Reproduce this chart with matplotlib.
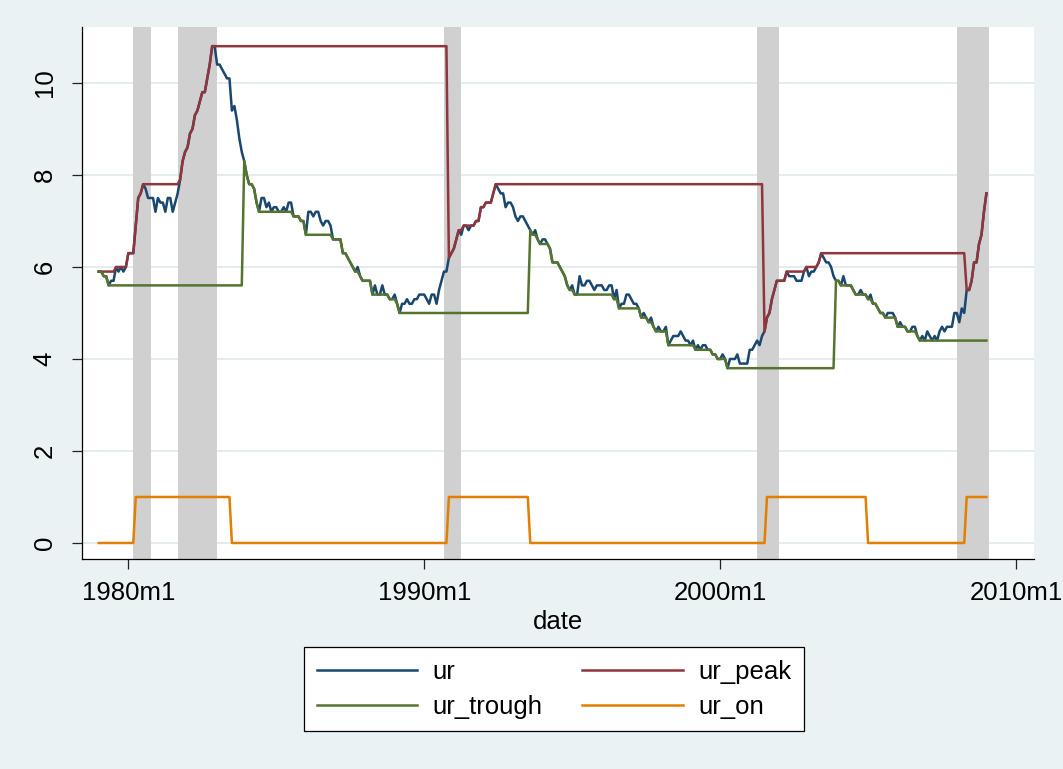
import numpy as np
import pandas as pd
import matplotlib
matplotlib.use("Agg")
import matplotlib.pyplot as plt

plt.rcParams['font.family'] = ['Liberation Sans', 'DejaVu Sans']

# ---------------- data (monthly, 1979m1 .. 2009m1) ----------------
start_month = "1979-01"
end_month = "2009-01"

ur = [
    5.9, 5.9, 5.8, 5.8, 5.6, 5.7, 5.7, 6.0, 5.9, 6.0, 5.9, 6.0,         # 1979
    6.3, 6.3, 6.3, 6.9, 7.5, 7.6, 7.8, 7.7, 7.5, 7.5, 7.5, 7.2,         # 1980
    7.5, 7.4, 7.4, 7.2, 7.5, 7.5, 7.2, 7.4, 7.6, 7.9, 8.3, 8.5,         # 1981
    8.6, 8.9, 9.0, 9.3, 9.4, 9.6, 9.8, 9.8, 10.1, 10.4, 10.8, 10.8,     # 1982
    10.4, 10.4, 10.3, 10.2, 10.1, 10.1, 9.4, 9.5, 9.2, 8.8, 8.5, 8.3,   # 1983
    8.0, 7.8, 7.8, 7.7, 7.4, 7.2, 7.5, 7.5, 7.3, 7.4, 7.2, 7.3,         # 1984
    7.3, 7.2, 7.2, 7.3, 7.2, 7.4, 7.4, 7.1, 7.1, 7.1, 7.0, 7.0,         # 1985
    6.7, 7.2, 7.2, 7.1, 7.2, 7.2, 7.0, 6.9, 7.0, 7.0, 6.9, 6.6,         # 1986
    6.6, 6.6, 6.6, 6.3, 6.3, 6.2, 6.1, 6.0, 5.9, 6.0, 5.8, 5.7,         # 1987
    5.7, 5.7, 5.7, 5.4, 5.6, 5.4, 5.4, 5.6, 5.4, 5.4, 5.3, 5.3,         # 1988
    5.4, 5.2, 5.0, 5.2, 5.2, 5.3, 5.2, 5.2, 5.3, 5.3, 5.4, 5.4,         # 1989
    5.4, 5.3, 5.2, 5.4, 5.4, 5.2, 5.5, 5.7, 5.9, 5.9, 6.2, 6.3,         # 1990
    6.4, 6.6, 6.8, 6.7, 6.9, 6.9, 6.8, 6.9, 6.9, 7.0, 7.0, 7.3,         # 1991
    7.3, 7.4, 7.4, 7.4, 7.6, 7.8, 7.7, 7.6, 7.6, 7.3, 7.4, 7.4,         # 1992
    7.3, 7.1, 7.0, 7.1, 7.1, 7.0, 6.9, 6.8, 6.7, 6.8, 6.6, 6.5,         # 1993
    6.6, 6.6, 6.5, 6.4, 6.1, 6.1, 6.1, 6.0, 5.9, 5.8, 5.6, 5.5,         # 1994
    5.6, 5.4, 5.4, 5.8, 5.6, 5.6, 5.7, 5.7, 5.6, 5.5, 5.6, 5.6,         # 1995
    5.6, 5.5, 5.5, 5.6, 5.6, 5.3, 5.5, 5.1, 5.2, 5.2, 5.4, 5.4,         # 1996
    5.3, 5.2, 5.2, 5.1, 4.9, 5.0, 4.9, 4.8, 4.9, 4.7, 4.6, 4.7,         # 1997
    4.6, 4.6, 4.7, 4.3, 4.4, 4.5, 4.5, 4.5, 4.6, 4.5, 4.4, 4.4,         # 1998
    4.3, 4.4, 4.2, 4.3, 4.2, 4.3, 4.3, 4.2, 4.2, 4.1, 4.1, 4.0,         # 1999
    4.0, 4.1, 4.0, 3.8, 4.0, 4.0, 4.0, 4.1, 3.9, 3.9, 3.9, 3.9,         # 2000
    4.2, 4.2, 4.3, 4.4, 4.3, 4.5, 4.6, 4.9, 5.0, 5.3, 5.5, 5.7,         # 2001
    5.7, 5.7, 5.7, 5.9, 5.8, 5.8, 5.8, 5.7, 5.7, 5.7, 5.9, 6.0,         # 2002
    5.8, 5.9, 5.9, 6.0, 6.1, 6.3, 6.2, 6.1, 6.1, 6.0, 5.8, 5.7,         # 2003
    5.7, 5.6, 5.8, 5.6, 5.6, 5.6, 5.5, 5.4, 5.4, 5.5, 5.4, 5.4,         # 2004
    5.3, 5.4, 5.2, 5.2, 5.1, 5.0, 5.0, 4.9, 5.0, 5.0, 5.0, 4.9,         # 2005
    4.7, 4.8, 4.7, 4.7, 4.6, 4.6, 4.7, 4.7, 4.5, 4.4, 4.5, 4.4,         # 2006
    4.6, 4.5, 4.4, 4.5, 4.4, 4.6, 4.7, 4.6, 4.7, 4.7, 4.7, 5.0,         # 2007
    5.0, 4.8, 5.1, 5.0, 5.5, 5.5, 5.7, 6.1, 6.1, 6.5, 6.7, 7.2,         # 2008
    7.6,                                                                # 2009
]

ur_peak = [
    5.9, 5.9, 5.9, 5.9, 5.9, 5.9, 5.9, 6.0, 6.0, 6.0, 6.0, 6.0,         # 1979
    6.3, 6.3, 6.3, 6.9, 7.5, 7.6, 7.8, 7.8, 7.8, 7.8, 7.8, 7.8,         # 1980
    7.8, 7.8, 7.8, 7.8, 7.8, 7.8, 7.8, 7.8, 7.8, 7.9, 8.3, 8.5,         # 1981
    8.6, 8.9, 9.0, 9.3, 9.4, 9.6, 9.8, 9.8, 10.1, 10.4, 10.8, 10.8,     # 1982
    10.8, 10.8, 10.8, 10.8, 10.8, 10.8, 10.8, 10.8, 10.8, 10.8, 10.8, 10.8,  # 1983
    10.8, 10.8, 10.8, 10.8, 10.8, 10.8, 10.8, 10.8, 10.8, 10.8, 10.8, 10.8,  # 1984
    10.8, 10.8, 10.8, 10.8, 10.8, 10.8, 10.8, 10.8, 10.8, 10.8, 10.8, 10.8,  # 1985
    10.8, 10.8, 10.8, 10.8, 10.8, 10.8, 10.8, 10.8, 10.8, 10.8, 10.8, 10.8,  # 1986
    10.8, 10.8, 10.8, 10.8, 10.8, 10.8, 10.8, 10.8, 10.8, 10.8, 10.8, 10.8,  # 1987
    10.8, 10.8, 10.8, 10.8, 10.8, 10.8, 10.8, 10.8, 10.8, 10.8, 10.8, 10.8,  # 1988
    10.8, 10.8, 10.8, 10.8, 10.8, 10.8, 10.8, 10.8, 10.8, 10.8, 10.8, 10.8,  # 1989
    10.8, 10.8, 10.8, 10.8, 10.8, 10.8, 10.8, 10.8, 10.8, 10.8, 6.2, 6.3,    # 1990
    6.4, 6.6, 6.8, 6.8, 6.9, 6.9, 6.9, 6.9, 6.9, 7.0, 7.0, 7.3,         # 1991
    7.3, 7.4, 7.4, 7.4, 7.6, 7.8, 7.8, 7.8, 7.8, 7.8, 7.8, 7.8,         # 1992
    7.8, 7.8, 7.8, 7.8, 7.8, 7.8, 7.8, 7.8, 7.8, 7.8, 7.8, 7.8,         # 1993
    7.8, 7.8, 7.8, 7.8, 7.8, 7.8, 7.8, 7.8, 7.8, 7.8, 7.8, 7.8,         # 1994
    7.8, 7.8, 7.8, 7.8, 7.8, 7.8, 7.8, 7.8, 7.8, 7.8, 7.8, 7.8,         # 1995
    7.8, 7.8, 7.8, 7.8, 7.8, 7.8, 7.8, 7.8, 7.8, 7.8, 7.8, 7.8,         # 1996
    7.8, 7.8, 7.8, 7.8, 7.8, 7.8, 7.8, 7.8, 7.8, 7.8, 7.8, 7.8,         # 1997
    7.8, 7.8, 7.8, 7.8, 7.8, 7.8, 7.8, 7.8, 7.8, 7.8, 7.8, 7.8,         # 1998
    7.8, 7.8, 7.8, 7.8, 7.8, 7.8, 7.8, 7.8, 7.8, 7.8, 7.8, 7.8,         # 1999
    7.8, 7.8, 7.8, 7.8, 7.8, 7.8, 7.8, 7.8, 7.8, 7.8, 7.8, 7.8,         # 2000
    7.8, 7.8, 7.8, 7.8, 7.8, 7.8, 4.6, 4.9, 5.0, 5.3, 5.5, 5.7,         # 2001
    5.7, 5.7, 5.7, 5.9, 5.9, 5.9, 5.9, 5.9, 5.9, 5.9, 5.9, 6.0,         # 2002
    6.0, 6.0, 6.0, 6.0, 6.1, 6.3, 6.3, 6.3, 6.3, 6.3, 6.3, 6.3,         # 2003
    6.3, 6.3, 6.3, 6.3, 6.3, 6.3, 6.3, 6.3, 6.3, 6.3, 6.3, 6.3,         # 2004
    6.3, 6.3, 6.3, 6.3, 6.3, 6.3, 6.3, 6.3, 6.3, 6.3, 6.3, 6.3,         # 2005
    6.3, 6.3, 6.3, 6.3, 6.3, 6.3, 6.3, 6.3, 6.3, 6.3, 6.3, 6.3,         # 2006
    6.3, 6.3, 6.3, 6.3, 6.3, 6.3, 6.3, 6.3, 6.3, 6.3, 6.3, 6.3,         # 2007
    6.3, 6.3, 6.3, 6.3, 5.5, 5.5, 5.7, 6.1, 6.1, 6.5, 6.7, 7.2,         # 2008
    7.6,                                                                # 2009
]

ur_trough = [
    5.9, 5.9, 5.8, 5.8, 5.6, 5.6, 5.6, 5.6, 5.6, 5.6, 5.6, 5.6,         # 1979
    5.6, 5.6, 5.6, 5.6, 5.6, 5.6, 5.6, 5.6, 5.6, 5.6, 5.6, 5.6,         # 1980
    5.6, 5.6, 5.6, 5.6, 5.6, 5.6, 5.6, 5.6, 5.6, 5.6, 5.6, 5.6,         # 1981
    5.6, 5.6, 5.6, 5.6, 5.6, 5.6, 5.6, 5.6, 5.6, 5.6, 5.6, 5.6,         # 1982
    5.6, 5.6, 5.6, 5.6, 5.6, 5.6, 5.6, 5.6, 5.6, 5.6, 5.6, 8.3,         # 1983
    8.0, 7.8, 7.8, 7.7, 7.4, 7.2, 7.2, 7.2, 7.2, 7.2, 7.2, 7.2,         # 1984
    7.2, 7.2, 7.2, 7.2, 7.2, 7.2, 7.2, 7.1, 7.1, 7.1, 7.0, 7.0,         # 1985
    6.7, 6.7, 6.7, 6.7, 6.7, 6.7, 6.7, 6.7, 6.7, 6.7, 6.7, 6.6,         # 1986
    6.6, 6.6, 6.6, 6.3, 6.3, 6.2, 6.1, 6.0, 5.9, 5.9, 5.8, 5.7,         # 1987
    5.7, 5.7, 5.7, 5.4, 5.4, 5.4, 5.4, 5.4, 5.4, 5.4, 5.3, 5.3,         # 1988
    5.3, 5.2, 5.0, 5.0, 5.0, 5.0, 5.0, 5.0, 5.0, 5.0, 5.0, 5.0,         # 1989
    5.0, 5.0, 5.0, 5.0, 5.0, 5.0, 5.0, 5.0, 5.0, 5.0, 5.0, 5.0,         # 1990
    5.0, 5.0, 5.0, 5.0, 5.0, 5.0, 5.0, 5.0, 5.0, 5.0, 5.0, 5.0,         # 1991
    5.0, 5.0, 5.0, 5.0, 5.0, 5.0, 5.0, 5.0, 5.0, 5.0, 5.0, 5.0,         # 1992
    5.0, 5.0, 5.0, 5.0, 5.0, 5.0, 5.0, 6.8, 6.7, 6.7, 6.6, 6.5,         # 1993
    6.5, 6.5, 6.5, 6.4, 6.1, 6.1, 6.1, 6.0, 5.9, 5.8, 5.6, 5.5,         # 1994
    5.5, 5.4, 5.4, 5.4, 5.4, 5.4, 5.4, 5.4, 5.4, 5.4, 5.4, 5.4,         # 1995
    5.4, 5.4, 5.4, 5.4, 5.4, 5.3, 5.3, 5.1, 5.1, 5.1, 5.1, 5.1,         # 1996
    5.1, 5.1, 5.1, 5.1, 4.9, 4.9, 4.9, 4.8, 4.8, 4.7, 4.6, 4.6,         # 1997
    4.6, 4.6, 4.6, 4.3, 4.3, 4.3, 4.3, 4.3, 4.3, 4.3, 4.3, 4.3,         # 1998
    4.3, 4.3, 4.2, 4.2, 4.2, 4.2, 4.2, 4.2, 4.2, 4.1, 4.1, 4.0,         # 1999
    4.0, 4.0, 4.0, 3.8, 3.8, 3.8, 3.8, 3.8, 3.8, 3.8, 3.8, 3.8,         # 2000
    3.8, 3.8, 3.8, 3.8, 3.8, 3.8, 3.8, 3.8, 3.8, 3.8, 3.8, 3.8,         # 2001
    3.8, 3.8, 3.8, 3.8, 3.8, 3.8, 3.8, 3.8, 3.8, 3.8, 3.8, 3.8,         # 2002
    3.8, 3.8, 3.8, 3.8, 3.8, 3.8, 3.8, 3.8, 3.8, 3.8, 3.8, 5.7,         # 2003
    5.7, 5.6, 5.6, 5.6, 5.6, 5.6, 5.5, 5.4, 5.4, 5.4, 5.4, 5.4,         # 2004
    5.3, 5.3, 5.2, 5.2, 5.1, 5.0, 5.0, 4.9, 4.9, 4.9, 4.9, 4.9,         # 2005
    4.7, 4.7, 4.7, 4.7, 4.6, 4.6, 4.6, 4.6, 4.5, 4.4, 4.4, 4.4,         # 2006
    4.4, 4.4, 4.4, 4.4, 4.4, 4.4, 4.4, 4.4, 4.4, 4.4, 4.4, 4.4,         # 2007
    4.4, 4.4, 4.4, 4.4, 4.4, 4.4, 4.4, 4.4, 4.4, 4.4, 4.4, 4.4,         # 2008
    4.4,                                                                # 2009
]

ur_on = [
    0, 0, 0, 0, 0, 0, 0, 0, 0, 0, 0, 0,   # 1979
    0, 0, 0, 1, 1, 1, 1, 1, 1, 1, 1, 1,   # 1980
    1, 1, 1, 1, 1, 1, 1, 1, 1, 1, 1, 1,   # 1981
    1, 1, 1, 1, 1, 1, 1, 1, 1, 1, 1, 1,   # 1982
    1, 1, 1, 1, 1, 1, 0, 0, 0, 0, 0, 0,   # 1983
    0, 0, 0, 0, 0, 0, 0, 0, 0, 0, 0, 0,   # 1984
    0, 0, 0, 0, 0, 0, 0, 0, 0, 0, 0, 0,   # 1985
    0, 0, 0, 0, 0, 0, 0, 0, 0, 0, 0, 0,   # 1986
    0, 0, 0, 0, 0, 0, 0, 0, 0, 0, 0, 0,   # 1987
    0, 0, 0, 0, 0, 0, 0, 0, 0, 0, 0, 0,   # 1988
    0, 0, 0, 0, 0, 0, 0, 0, 0, 0, 0, 0,   # 1989
    0, 0, 0, 0, 0, 0, 0, 0, 0, 0, 1, 1,   # 1990
    1, 1, 1, 1, 1, 1, 1, 1, 1, 1, 1, 1,   # 1991
    1, 1, 1, 1, 1, 1, 1, 1, 1, 1, 1, 1,   # 1992
    1, 1, 1, 1, 1, 1, 1, 0, 0, 0, 0, 0,   # 1993
    0, 0, 0, 0, 0, 0, 0, 0, 0, 0, 0, 0,   # 1994
    0, 0, 0, 0, 0, 0, 0, 0, 0, 0, 0, 0,   # 1995
    0, 0, 0, 0, 0, 0, 0, 0, 0, 0, 0, 0,   # 1996
    0, 0, 0, 0, 0, 0, 0, 0, 0, 0, 0, 0,   # 1997
    0, 0, 0, 0, 0, 0, 0, 0, 0, 0, 0, 0,   # 1998
    0, 0, 0, 0, 0, 0, 0, 0, 0, 0, 0, 0,   # 1999
    0, 0, 0, 0, 0, 0, 0, 0, 0, 0, 0, 0,   # 2000
    0, 0, 0, 0, 0, 0, 0, 1, 1, 1, 1, 1,   # 2001
    1, 1, 1, 1, 1, 1, 1, 1, 1, 1, 1, 1,   # 2002
    1, 1, 1, 1, 1, 1, 1, 1, 1, 1, 1, 1,   # 2003
    1, 1, 1, 1, 1, 1, 1, 1, 1, 1, 1, 1,   # 2004
    0, 0, 0, 0, 0, 0, 0, 0, 0, 0, 0, 0,   # 2005
    0, 0, 0, 0, 0, 0, 0, 0, 0, 0, 0, 0,   # 2006
    0, 0, 0, 0, 0, 0, 0, 0, 0, 0, 0, 0,   # 2007
    0, 0, 0, 0, 1, 1, 1, 1, 1, 1, 1, 1,   # 2008
    1,                                    # 2009
]

# shaded recession periods (first and last shaded month)
rec_first = ["1980-03", "1981-09", "1990-09", "2001-04", "2008-01"]
rec_last = ["1980-09", "1982-12", "1991-03", "2001-12", "2009-01"]

xtick_labels = ["1980m1", "1990m1", "2000m1", "2010m1"]
ytick_values = [0, 2, 4, 6, 8, 10]
series_names = ["ur", "ur_peak", "ur_trough", "ur_on"]


def stata_month(p):
    p = pd.Period(p, freq="M")
    return (p.year - 1960) * 12 + (p.month - 1)


def label_to_period(s):
    y, m = s.split("m")
    return f"{y}-{int(m):02d}"


dates = np.array([stata_month(p) for p in pd.period_range(start_month, end_month, freq="M")])
xtick_pos = [stata_month(label_to_period(s)) for s in xtick_labels]

# ---------------- figure ----------------
W, H = 1063, 769
BG = "#EAF2F3"
fig = plt.figure(figsize=(W / 100, H / 100), dpi=100, facecolor=BG)
ax = fig.add_axes([82 / W, 1 - 559 / H, (1034 - 82) / W, (559 - 27) / H])
ax.set_facecolor("white")

for a, b in zip(rec_first, rec_last):
    ax.axvspan(stata_month(a), stata_month(b) + 1, color="#D0D0D0", lw=0, zorder=1)

colors = ["#1A476F", "#90353B", "#55752F", "#E37E00"]
lines = {}
for name, vals, c in zip(series_names, [ur, ur_peak, ur_trough, ur_on], colors):
    ln, = ax.plot(dates, vals, color=c, lw=1.8, label=name, zorder=3, solid_joinstyle="round")
    lines[name] = ln

ax.set_xlim(221.2, 607.3)
ax.set_ylim(-0.348, 11.217)

ax.set_yticks(ytick_values)
ax.set_yticklabels([str(v) for v in ytick_values], rotation=90, va="center", fontsize=18.5)
ax.set_xticks(xtick_pos)
ax.set_xticklabels(xtick_labels, fontsize=18.5)
ax.tick_params(axis="both", direction="out", length=7.2, width=0.9, color="#222222")
ax.tick_params(axis="y", pad=11)
ax.tick_params(axis="x", pad=9)

ax.grid(axis="y", color="#E3ECEE", lw=1.4, zorder=0)
ax.set_axisbelow(True)
for s in ["top", "right"]:
    ax.spines[s].set_visible(False)
for s in ["left", "bottom"]:
    ax.spines[s].set_color("#000000")
    ax.spines[s].set_linewidth(0.9)

ax.set_xlabel("date", fontsize=18.5, labelpad=3)

# legend filled row by row: (ur, ur_peak) / (ur_trough, ur_on)
order = ["ur", "ur_trough", "ur_peak", "ur_on"]
leg = fig.legend([lines[n] for n in order], order, ncol=2, loc="upper left",
                 bbox_to_anchor=(304 / W, 1 - 647 / H), frameon=True, fancybox=False,
                 edgecolor="#000000", facecolor="white", framealpha=1,
                 fontsize=18.5, handlelength=3.9, handletextpad=0.6,
                 columnspacing=1.55, labelspacing=0.42, borderpad=0.5, borderaxespad=0)
leg.get_frame().set_linewidth(0.9)

fig.savefig("out.png", dpi=100, facecolor=BG)
